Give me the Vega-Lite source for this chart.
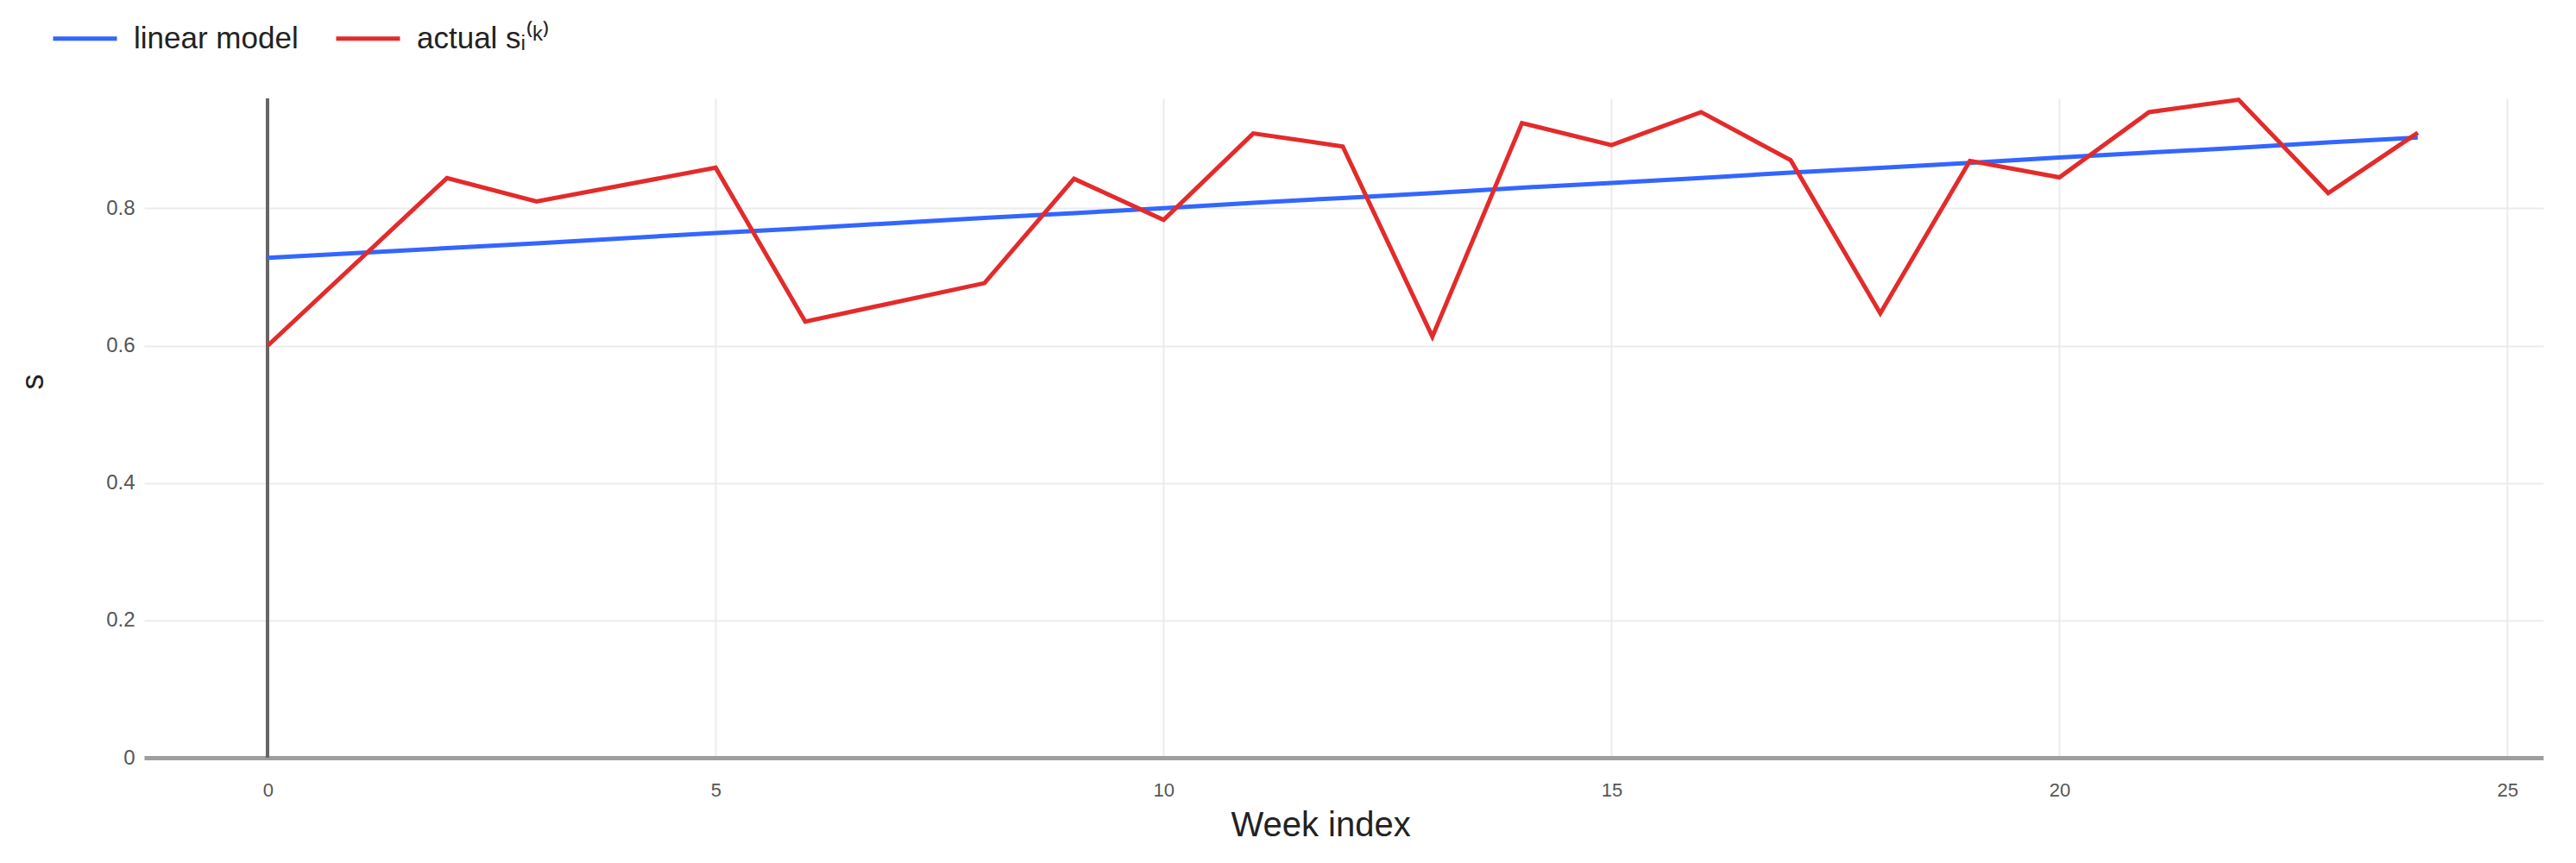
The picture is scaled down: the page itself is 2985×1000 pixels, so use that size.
{
  "$schema": "https://vega.github.io/schema/vega-lite/v6.json",
  "autosize": {"type": "none"},
  "padding": {"left": 167, "top": 114, "right": 38, "bottom": 122},
  "width": 2780,
  "height": 764,
  "background": "white",
  "config": {
    "view": {"stroke": null},
    "font": "Liberation Sans",
    "legend": {"padding": 0}
  },
  "data": {
    "values": [
      {"week": 0, "s": 0.728, "series": "linear model"},
      {"week": 2, "s": 0.742, "series": "linear model"},
      {"week": 3, "s": 0.749, "series": "linear model"},
      {"week": 5, "s": 0.764, "series": "linear model"},
      {"week": 6, "s": 0.771, "series": "linear model"},
      {"week": 8, "s": 0.786, "series": "linear model"},
      {"week": 9, "s": 0.793, "series": "linear model"},
      {"week": 10, "s": 0.800, "series": "linear model"},
      {"week": 11, "s": 0.808, "series": "linear model"},
      {"week": 12, "s": 0.815, "series": "linear model"},
      {"week": 13, "s": 0.822, "series": "linear model"},
      {"week": 14, "s": 0.830, "series": "linear model"},
      {"week": 15, "s": 0.837, "series": "linear model"},
      {"week": 16, "s": 0.844, "series": "linear model"},
      {"week": 17, "s": 0.852, "series": "linear model"},
      {"week": 18, "s": 0.859, "series": "linear model"},
      {"week": 19, "s": 0.866, "series": "linear model"},
      {"week": 20, "s": 0.874, "series": "linear model"},
      {"week": 21, "s": 0.881, "series": "linear model"},
      {"week": 22, "s": 0.888, "series": "linear model"},
      {"week": 23, "s": 0.896, "series": "linear model"},
      {"week": 24, "s": 0.903, "series": "linear model"},
      {"week": 0, "s": 0.600, "series": "actual sᵢ⁽ᵏ⁾"},
      {"week": 2, "s": 0.844, "series": "actual sᵢ⁽ᵏ⁾"},
      {"week": 3, "s": 0.810, "series": "actual sᵢ⁽ᵏ⁾"},
      {"week": 5, "s": 0.859, "series": "actual sᵢ⁽ᵏ⁾"},
      {"week": 6, "s": 0.635, "series": "actual sᵢ⁽ᵏ⁾"},
      {"week": 8, "s": 0.691, "series": "actual sᵢ⁽ᵏ⁾"},
      {"week": 9, "s": 0.843, "series": "actual sᵢ⁽ᵏ⁾"},
      {"week": 10, "s": 0.783, "series": "actual sᵢ⁽ᵏ⁾"},
      {"week": 11, "s": 0.909, "series": "actual sᵢ⁽ᵏ⁾"},
      {"week": 12, "s": 0.890, "series": "actual sᵢ⁽ᵏ⁾"},
      {"week": 13, "s": 0.613, "series": "actual sᵢ⁽ᵏ⁾"},
      {"week": 14, "s": 0.924, "series": "actual sᵢ⁽ᵏ⁾"},
      {"week": 15, "s": 0.892, "series": "actual sᵢ⁽ᵏ⁾"},
      {"week": 16, "s": 0.940, "series": "actual sᵢ⁽ᵏ⁾"},
      {"week": 17, "s": 0.870, "series": "actual sᵢ⁽ᵏ⁾"},
      {"week": 18, "s": 0.647, "series": "actual sᵢ⁽ᵏ⁾"},
      {"week": 19, "s": 0.869, "series": "actual sᵢ⁽ᵏ⁾"},
      {"week": 20, "s": 0.845, "series": "actual sᵢ⁽ᵏ⁾"},
      {"week": 21, "s": 0.940, "series": "actual sᵢ⁽ᵏ⁾"},
      {"week": 22, "s": 0.958, "series": "actual sᵢ⁽ᵏ⁾"},
      {"week": 23, "s": 0.822, "series": "actual sᵢ⁽ᵏ⁾"},
      {"week": 24, "s": 0.910, "series": "actual sᵢ⁽ᵏ⁾"}
    ]
  },
  "layer": [
    {
      "mark": {"type": "rule", "color": "#666666", "strokeWidth": 3},
      "encoding": {
        "x": {"datum": 0, "type": "quantitative", "scale": {"domain": [-1.38, 25.4], "nice": false, "zero": false}}
      }
    },
    {
      "mark": {"type": "line", "strokeWidth": 5, "strokeJoin": "miter", "clip": false},
      "encoding": {
        "x": {
          "field": "week",
          "type": "quantitative",
          "scale": {"domain": [-1.38, 25.4], "nice": false, "zero": false},
          "axis": {
            "title": "Week index",
            "titleFontSize": 40,
            "titleFontWeight": "normal",
            "titleColor": "#222222",
            "titleX": 1363,
            "titleY": 78,
            "titleBaseline": "middle",
            "titleAlign": "center",
            "values": [0, 5, 10, 15, 20, 25],
            "format": "d",
            "labelFontSize": 22,
            "labelColor": "#555555",
            "labelPadding": 27,
            "ticks": false,
            "domain": true,
            "domainColor": "#9e9e9e",
            "domainWidth": 5,
            "grid": true,
            "gridColor": "#ebebeb",
            "gridWidth": 2
          }
        },
        "y": {
          "field": "s",
          "type": "quantitative",
          "scale": {"domain": [0, 0.96], "nice": false},
          "axis": {
            "title": "s",
            "titleFontSize": 36,
            "titleFontWeight": "normal",
            "titleColor": "#222222",
            "titleX": -129,
            "titleY": 328,
            "titleAngle": -90,
            "titleBaseline": "middle",
            "titleAlign": "center",
            "values": [0, 0.2, 0.4, 0.6, 0.8],
            "format": ".1~f",
            "labelFontSize": 24,
            "labelColor": "#555555",
            "labelPadding": 11,
            "ticks": false,
            "domain": false,
            "grid": true,
            "gridColor": "#ebebeb",
            "gridWidth": 2
          }
        },
        "color": {
          "field": "series",
          "type": "nominal",
          "sort": ["linear model", "actual sᵢ⁽ᵏ⁾"],
          "scale": {"domain": ["linear model", "actual sᵢ⁽ᵏ⁾"], "range": ["#3366ff", "#e32b2b"]},
          "legend": {
            "title": null,
            "orient": "none",
            "direction": "horizontal",
            "legendX": -108,
            "legendY": -109,
            "symbolType": "stroke",
            "symbolSize": 5476,
            "symbolStrokeWidth": 5,
            "labelFontSize": 35,
            "labelColor": "#222222",
            "labelOffset": 17,
            "labelLimit": 500,
            "columnPadding": 33
          }
        }
      }
    }
  ]
}
